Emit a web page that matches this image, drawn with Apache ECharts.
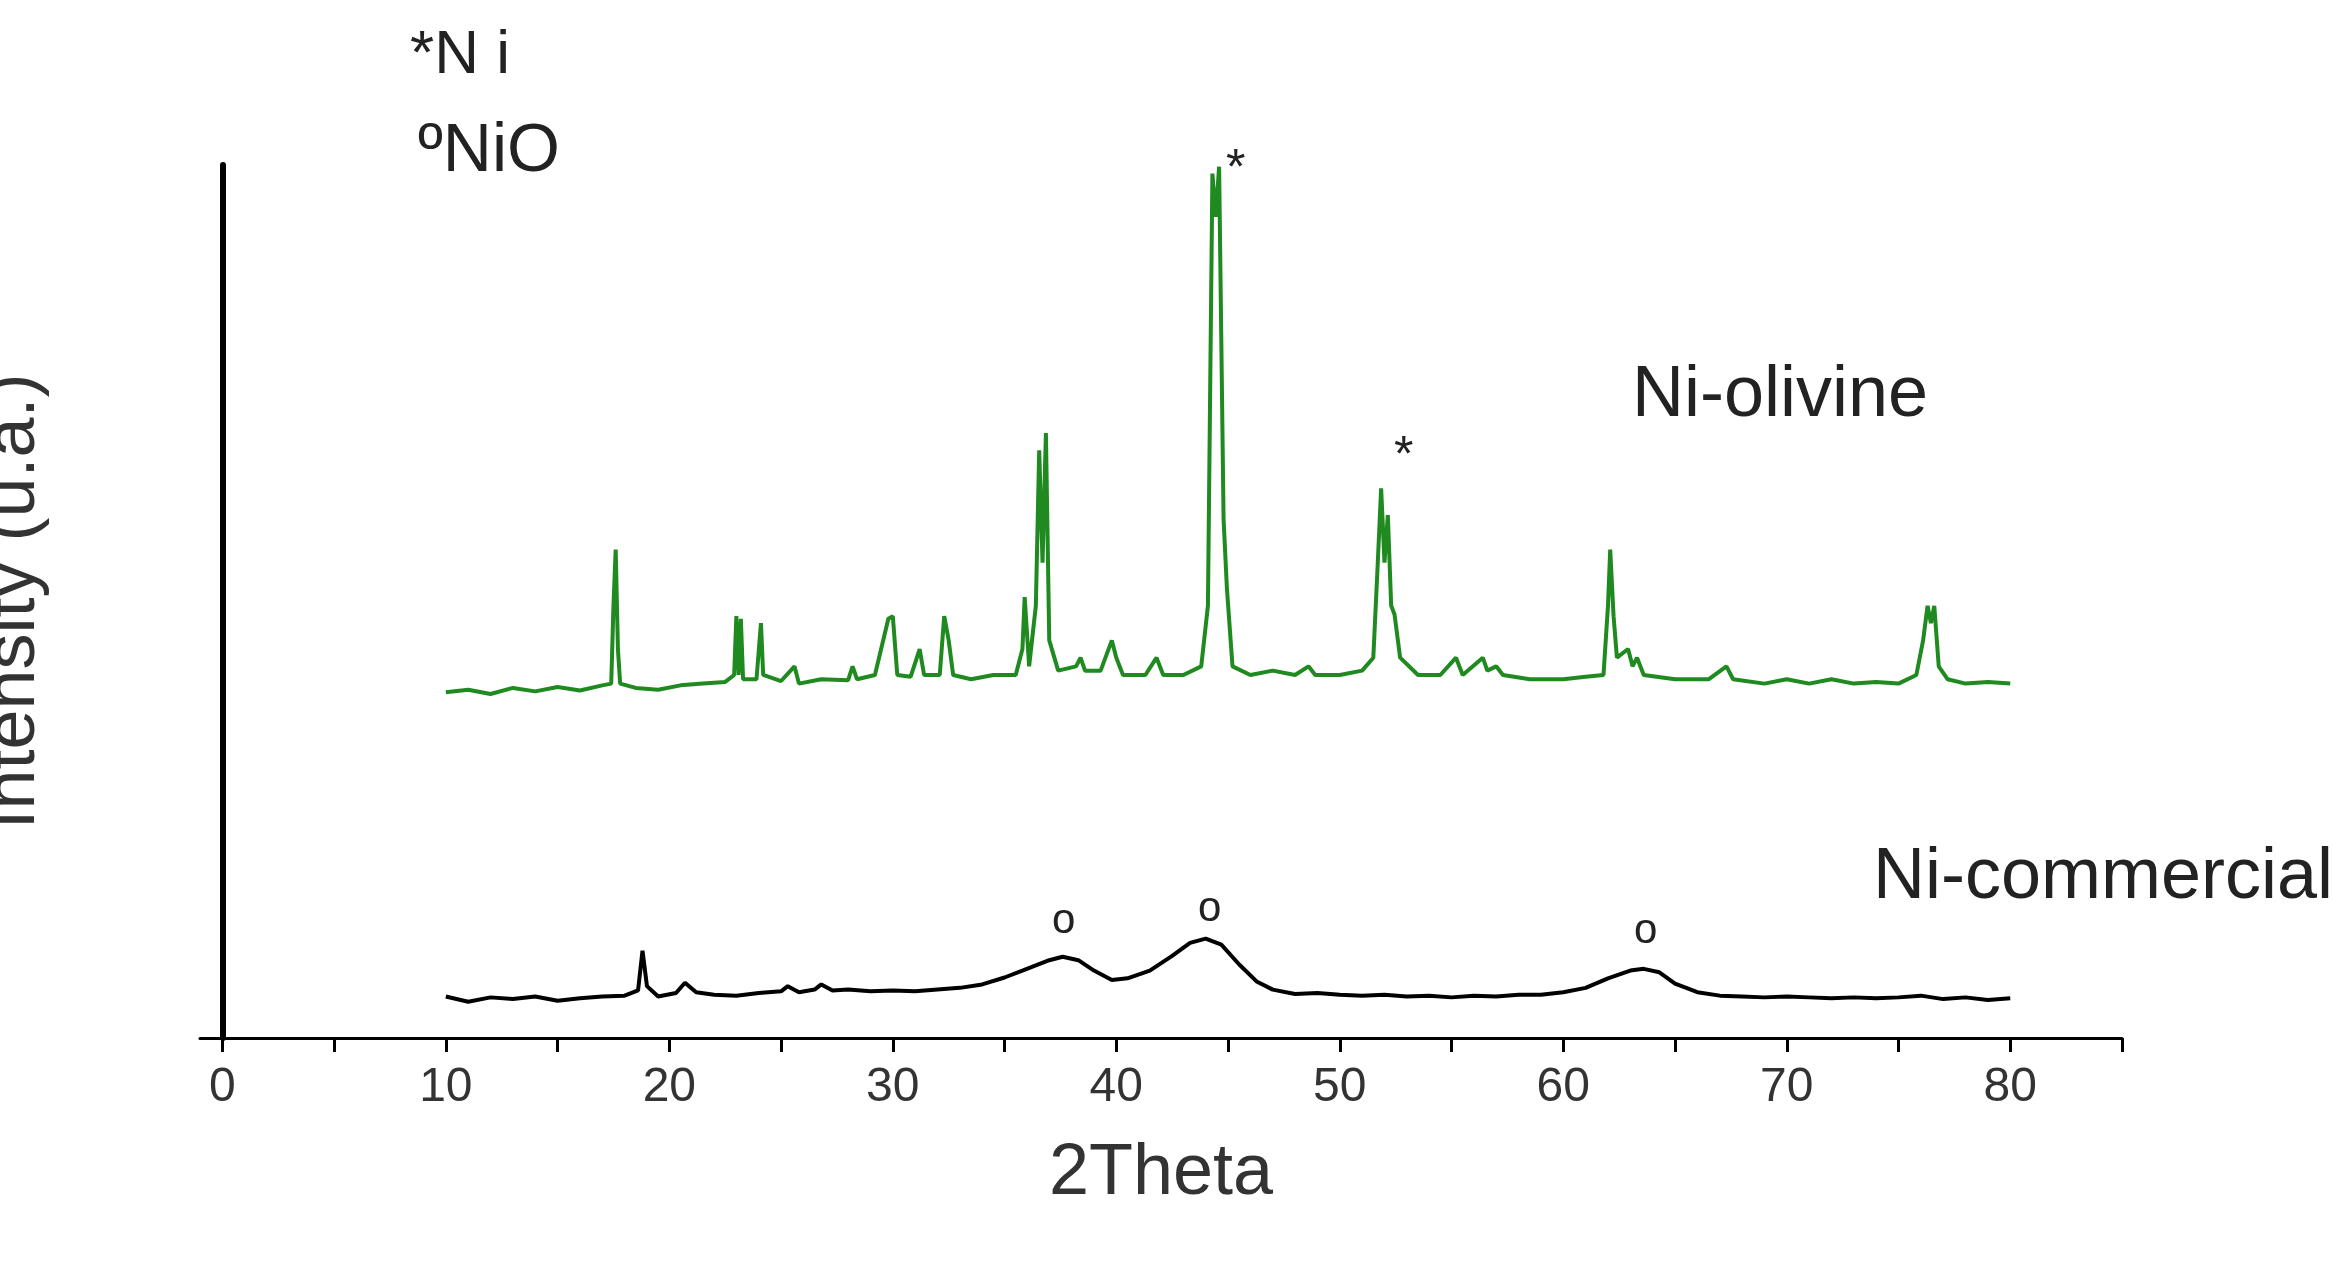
<!DOCTYPE html>
<html>
<head>
<meta charset="utf-8">
<script src="https://cdn.jsdelivr.net/npm/echarts@6/dist/echarts.min.js"></script>
<style>html,body{margin:0;background:#fff}#chart{width:2351px;height:1262px}</style>
</head>
<body>
<div id="chart"></div>
<script>
// 2Theta / intensity pairs
const niOlivine = [
  [10,40],[11,40.3],[12,39.8],[13,40.5],[14,40.1],[15,40.6],[16,40.2],[17,40.8],[17.4,41],[17.5,50],[17.6,56.5],[17.7,45],[17.8,41],
  [18.5,40.5],[19.5,40.3],[20.5,40.8],[21.5,41],[22.5,41.2],[22.9,42],[23.0,48.8],[23.1,42],[23.2,48.5],[23.3,41.5],[23.9,41.5],
  [24.1,48],[24.2,42],[25,41.3],[25.6,43],[25.8,41],[26.8,41.5],[28.0,41.4],[28.2,43],[28.4,41.5],[29.2,42],[29.8,48.5],[30.0,48.8],
  [30.2,42],[30.8,41.8],[31.2,45],[31.4,42],[32.1,42],[32.3,48.8],[32.5,46],[32.7,42],[33.5,41.5],[34.5,42],[35.5,42],[35.8,45],
  [35.9,51],[36.1,43],[36.4,50],[36.55,68],[36.7,55],[36.85,70],[37.0,46],[37.4,42.5],[38.2,43],[38.4,44],[38.6,42.5],[39.3,42.5],
  [39.8,46],[40.0,44],[40.3,42],[41.3,42],[41.8,44],[42.1,42],[43,42],[43.8,43],[44.1,50],[44.3,100],[44.45,95],[44.6,100.8],
  [44.8,60],[44.95,52],[45.2,43],[46,42],[47,42.5],[48.0,42],[48.6,43],[48.9,42],[50,42],[51,42.5],[51.5,44],[51.7,55],[51.85,63.6],
  [52.0,55],[52.15,60.5],[52.3,50],[52.45,49],[52.7,44],[53.5,42],[54.5,42],[55.2,44],[55.5,42],[56.4,44],[56.6,42.5],[57.0,43],
  [57.3,42],[58.5,41.5],[60,41.5],[61,41.8],[61.8,42],[62.0,50],[62.1,56.5],[62.25,48.8],[62.4,44],[62.9,45],[63.1,43],[63.3,44],
  [63.6,42],[65,41.5],[66.5,41.5],[67.3,43],[67.6,41.5],[69,41],[70,41.5],[71,41],[72,41.5],[73,41],[74,41.2],[75,41],[75.8,42],
  [76.1,46],[76.3,50],[76.45,48],[76.6,50],[76.8,43],[77.2,41.5],[78,41],[79,41.2],[80,41]
];
const niCommercial = [
  [10,4.8],[11,4.2],[12,4.7],[13,4.5],[14,4.8],[15,4.3],[16,4.6],[17,4.8],[18,4.9],[18.6,5.5],[18.8,10.1],[19.0,6],[19.5,4.8],
  [20.3,5.2],[20.7,6.4],[21.2,5.3],[22,5],[23,4.9],[24,5.2],[25,5.4],[25.3,6],[25.8,5.3],[26.5,5.6],[26.8,6.2],[27.3,5.5],[28,5.6],
  [29,5.4],[30,5.5],[31,5.4],[32,5.6],[33,5.8],[34,6.2],[35,7],[36,8],[37,9],[37.6,9.4],[38.3,9],[39,7.8],[39.8,6.7],[40.5,6.9],
  [41.5,7.8],[42.5,9.5],[43.3,11],[44,11.5],[44.7,10.8],[45.5,8.5],[46.3,6.5],[47,5.6],[48,5.1],[49,5.2],[50,5],[51,4.9],[52,5],
  [53,4.8],[54,4.9],[55,4.7],[56,4.9],[57,4.8],[58,5],[59,5],[60,5.3],[61,5.8],[62,6.9],[63,7.8],[63.6,8],[64.3,7.6],[65,6.3],
  [66,5.3],[67,4.9],[68,4.8],[69,4.7],[70,4.8],[71,4.7],[72,4.6],[73,4.7],[74,4.6],[75,4.7],[76,4.9],[77,4.5],[78,4.7],[79,4.4],[80,4.6]
];
const xLabels = [0, 10, 20, 30, 40, 50, 60, 70, 80];
const xTicks = [0, 5, 10, 15, 20, 25, 30, 35, 40, 45, 50, 55, 60, 65, 70, 75, 80, 85];

const font = 'Liberation Sans, Arial, sans-serif';
const chart = echarts.init(document.getElementById('chart'));
chart.setOption({
  animation: false,
  grid: { left: 200, right: 229, top: 165, bottom: 224, outerBoundsMode: 'none', containLabel: false },
  xAxis: {
    type: 'value', min: -1, max: 85,
    name: '2Theta', nameLocation: 'middle', nameGap: 100,
    nameTextStyle: { fontSize: 72, color: '#333', fontFamily: font },
    axisLine: { lineStyle: { color: '#000', width: 3 } },
    axisTick: { customValues: xTicks, length: 14, inside: false, lineStyle: { color: '#000', width: 3 } },
    axisLabel: { customValues: xLabels, fontSize: 48, color: '#333', fontFamily: font, margin: 26 },
    splitLine: { show: false }
  },
  yAxis: {
    type: 'value', min: 0, max: 101,
    name: 'Intensity (u.a.)', nameLocation: 'middle', nameGap: 150, nameRotate: 90,
    nameTextStyle: { fontSize: 72, color: '#333', fontFamily: font },
    axisLine: { onZero: true, lineStyle: { color: '#000', width: 6 } },
    axisTick: { show: false }, axisLabel: { show: false }, splitLine: { show: false }
  },
  series: [
    { type: 'line', data: niOlivine, showSymbol: false, lineStyle: { color: '#1f8a1f', width: 4 } },
    { type: 'line', data: niCommercial, showSymbol: false, lineStyle: { color: '#000', width: 4 } }
  ],
  graphic: [
    { type: 'text', left: 410, top: 25, style: { text: '*N i', fontSize: 62, fill: '#222', fontFamily: font } },
    { type: 'text', left: 418, top: 118, style: { text: 'ºNiO', fontSize: 68, fill: '#222', fontFamily: font } },
    { type: 'text', left: 1632, top: 360, style: { text: 'Ni-olivine', fontSize: 72, fill: '#222', fontFamily: font } },
    { type: 'text', left: 1873, top: 842, style: { text: 'Ni-commercial', fontSize: 72, fill: '#222', fontFamily: font } },
    { type: 'text', left: 1226, top: 145, style: { text: '*', fontSize: 50, fill: '#222', fontFamily: font } },
    { type: 'text', left: 1394, top: 432, style: { text: '*', fontSize: 50, fill: '#222', fontFamily: font } },
    { type: 'text', left: 1052, top: 900, style: { text: 'o', fontSize: 42, fill: '#222', fontFamily: font } },
    { type: 'text', left: 1198, top: 888, style: { text: 'o', fontSize: 42, fill: '#222', fontFamily: font } },
    { type: 'text', left: 1634, top: 910, style: { text: 'o', fontSize: 42, fill: '#222', fontFamily: font } }
  ]
});
</script>
</body>
</html>
